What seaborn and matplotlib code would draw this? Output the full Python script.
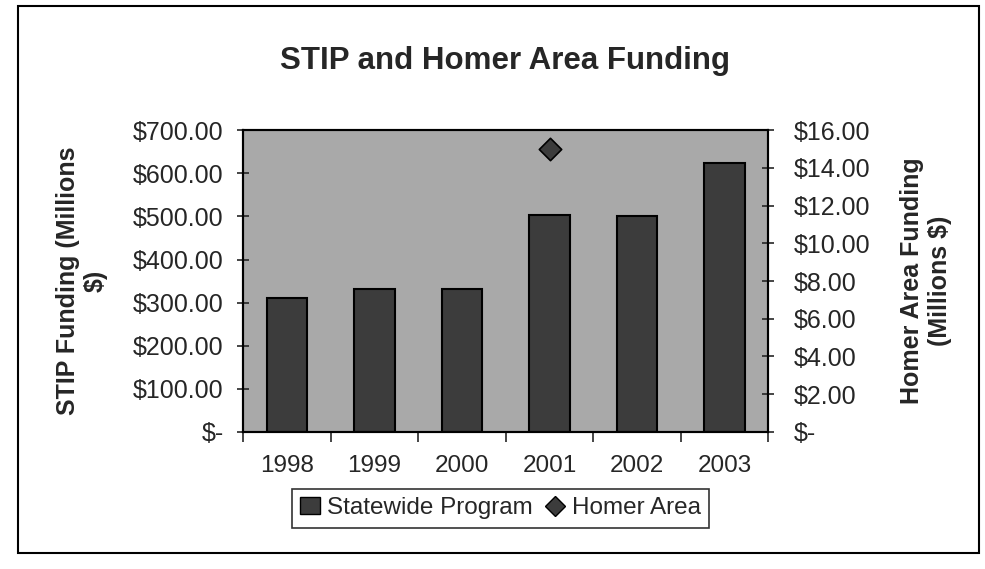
import numpy as np
import pandas as pd
import matplotlib.pyplot as plt
import matplotlib.ticker as mticker
from matplotlib.patches import Rectangle, Patch
from matplotlib.lines import Line2D
import seaborn as sns

# Data
years = ["1998", "1999", "2000", "2001", "2002", "2003"]
stip_funding = [310, 332, 332, 503, 502, 625]          # millions $
homer_funding = [np.nan, np.nan, np.nan, 15.0, np.nan, np.nan]  # millions $

df = pd.DataFrame({"Year": years, "STIP": stip_funding, "Homer": homer_funding})
df["pos"] = range(len(df))

sns.set_style("white")
plt.rcParams["font.family"] = ["Liberation Sans", "DejaVu Sans"]

fig = plt.figure(figsize=(9.85, 5.69), dpi=100)
ax = fig.add_axes([0.247, 0.241, 0.533, 0.530])
ax.set_facecolor("#a9a9a9")

bar_col = "#3c3c3c"
sns.barplot(data=df, x="Year", y="STIP", color=bar_col, width=0.46,
            edgecolor="black", linewidth=1.5, saturation=1, ax=ax)

ax.set_ylim(0, 700)
ax.set_xlim(-0.5, len(years) - 0.5)
ax.yaxis.set_major_locator(mticker.MultipleLocator(100))


def money(v, pos):
    return "$-" if abs(v) < 1e-9 else f"${v:,.2f}"


ax.yaxis.set_major_formatter(mticker.FuncFormatter(money))

# x ticks sit between categories, like Excel
ax.set_xticks(df["pos"])
ax.set_xticklabels(years)
ax.set_xticks(np.arange(-0.5, len(years)), minor=True)
ax.tick_params(axis="x", which="major", length=0, pad=17, labelsize=17.5)
ax.tick_params(axis="x", which="minor", length=7, width=1.2, direction="out",
               bottom=True)
ax.tick_params(axis="y", length=8, width=1.2, direction="inout", left=True,
               labelsize=18, pad=10)
ax.set_xlabel("")
ax.set_ylabel("STIP Funding (Millions\n$)", fontsize=18, fontweight="bold",
              labelpad=18)

ax2 = ax.twinx()
sns.scatterplot(data=df, x="pos", y="Homer", marker="D", s=130,
                color="#3c3c3c", edgecolor="black", linewidth=1.2, ax=ax2,
                zorder=5, legend=False)
ax2.set_ylim(0, 16)
ax2.yaxis.set_major_locator(mticker.MultipleLocator(2))
ax2.yaxis.set_major_formatter(mticker.FuncFormatter(money))
ax2.tick_params(axis="y", length=8, width=1.2, direction="inout", right=True,
                labelsize=18, pad=14)
ax2.set_ylabel("Homer Area Funding\n(Millions $)", fontsize=18,
               fontweight="bold", labelpad=22)
ax2.set_xlim(-0.5, len(years) - 0.5)

for a in (ax, ax2):
    for sp in a.spines.values():
        sp.set_color("black")
        sp.set_linewidth(1.5)
        sp.set_visible(True)

fig.text(0.513, 0.893, "STIP and Homer Area Funding", ha="center",
         va="center", fontsize=22.5, fontweight="bold")

handles = [
    Patch(facecolor=bar_col, edgecolor="black", label="Statewide Program"),
    Line2D([], [], marker="D", linestyle="none", markersize=10,
           markerfacecolor="#3c3c3c", markeredgecolor="black",
           label="Homer Area"),
]
leg = fig.legend(handles=handles, loc="center", bbox_to_anchor=(0.508, 0.107),
                 ncol=2, fontsize=17.5, frameon=True, fancybox=False,
                 handlelength=0.8, handletextpad=0.3, columnspacing=0.5,
                 borderpad=0.35, edgecolor="black")
leg.get_frame().set_linewidth(1.2)

# outer chart border
fig.patches.append(Rectangle((0.018, 0.028), 0.976, 0.962,
                             transform=fig.transFigure, fill=False,
                             edgecolor="black", linewidth=1.5))

fig.savefig("out.png", dpi=100)
